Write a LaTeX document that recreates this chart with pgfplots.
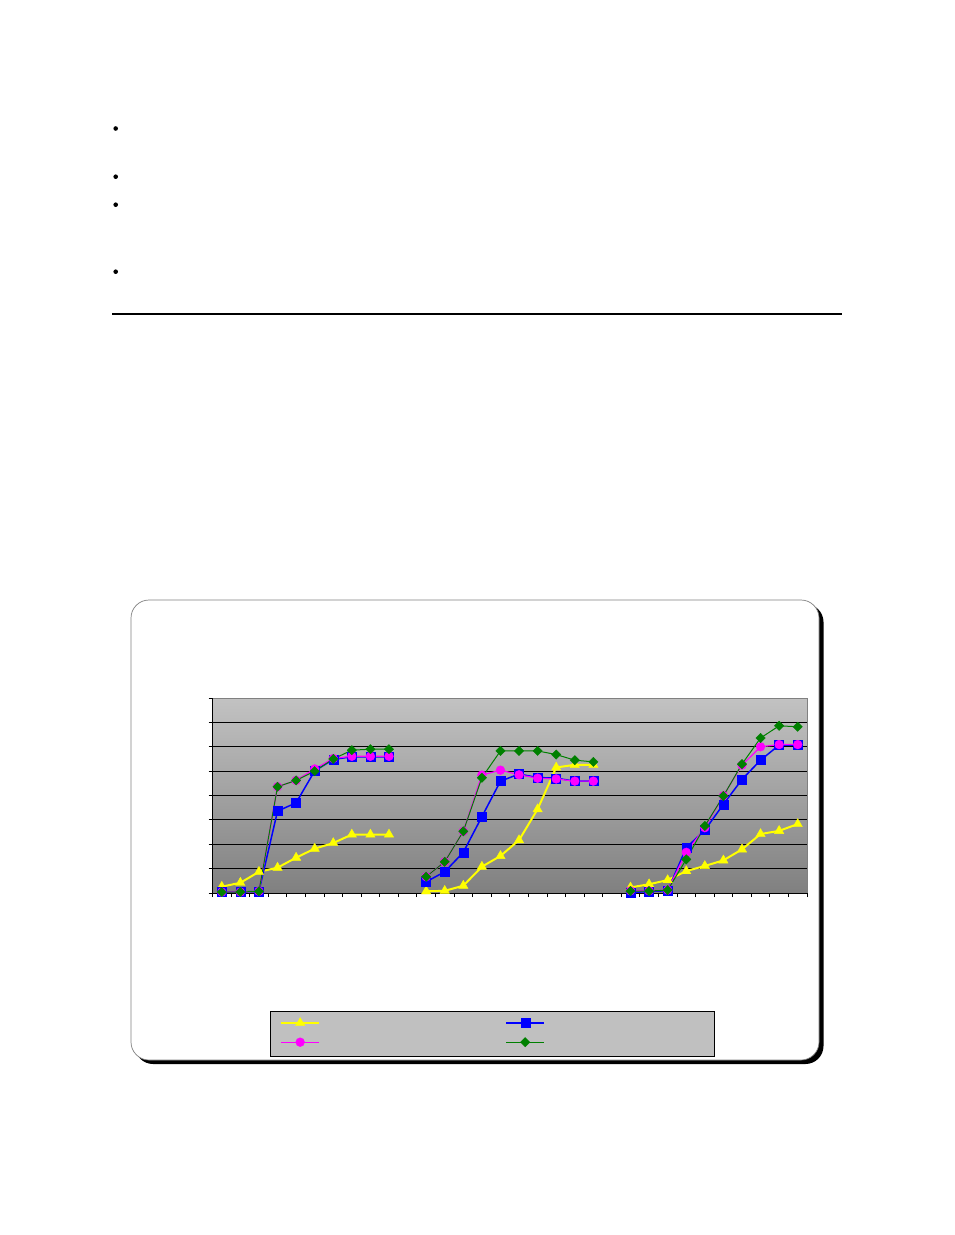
\documentclass[border=0pt]{standalone}
\usepackage{pgfplots}
\usepackage{pgfplotstable}
\pgfplotsset{compat=1.18}

\definecolor{xlyellow}{RGB}{255,255,0}
\definecolor{xlblue}{RGB}{0,0,255}
\definecolor{xlmagenta}{RGB}{255,0,255}
\definecolor{xlgreen}{RGB}{0,128,0}
\definecolor{plottop}{RGB}{194,194,194}
\definecolor{plotbot}{RGB}{128,128,128}
\definecolor{legfill}{RGB}{192,192,192}

% three runs of ten steps, empty slot between runs
\pgfplotstableread{
x  yel  blu  mag  grn
0  0.26 0.04 0.04 0.04
1  0.42 0.04 0.04 0.04
2  0.87 0.07 0.07 0.07
3  1.04 3.36 4.36 4.36
4  1.45 3.70 4.62 4.62
5  1.82 5.01 5.09 5.00
6  2.05 5.48 5.52 5.50
7  2.40 5.59 5.61 5.86
8  2.40 5.59 5.61 5.90
9  2.40 5.59 5.61 5.90
10 nan  nan  nan  nan
11 0.07 0.46 0.67 0.67
12 0.09 0.87 1.28 1.28
13 0.30 1.67 2.53 2.53
14 1.08 3.13 4.84 4.73
15 1.52 4.59 5.04 5.83
16 2.17 4.88 4.85 5.83
17 3.44 4.74 4.71 5.83
18 5.15 4.71 4.68 5.68
19 5.26 4.59 4.59 5.45
20 5.26 4.59 4.59 5.38
21 nan  nan  nan  nan
22 0.23 0.01 0.09 0.08
23 0.36 0.07 0.09 0.08
24 0.53 0.09 0.12 0.12
25 0.90 1.86 1.67 1.38
26 1.11 2.58 2.68 2.75
27 1.34 3.64 3.99 3.98
28 1.79 4.66 5.25 5.29
29 2.42 5.45 6.00 6.36
30 2.55 6.07 6.09 6.86
31 2.83 6.07 6.09 6.82
}\runs

\begin{document}
\begin{tikzpicture}
\path[fill=white, use as bounding box] (0pt,0pt) rectangle (954pt,-1235pt);

% bullets and rule of the page
\foreach \y in {128.5,176.7,204.7,271.7}
  \fill (115.7pt,-\y pt) circle (2.3pt);
\draw[line width=2pt] (112pt,-313.5pt) -- (842pt,-313.5pt);

% chart area with shadow
\fill[black, rounded corners=18pt] (135pt,-604pt) rectangle (823.5pt,-1064pt);
\filldraw[fill=white, draw=gray, line width=0.7pt, rounded corners=18pt]
  (131pt,-600pt) rectangle (819pt,-1060pt);

% legend box
\filldraw[fill=legfill, draw=black, line width=1pt]
  (270.5pt,-1011.7pt) rectangle (714.7pt,-1056pt);

\begin{axis}[
  at={(212.5pt,-893pt)}, anchor=south west,
  scale only axis, width=594.5pt, height=195pt,
  xmin=-0.5, xmax=31.5, ymin=0, ymax=8,
  clip=false,
  axis x line*=bottom, axis y line*=left,
  axis line style={black, line width=1pt},
  axis background/.style={top color=plottop, bottom color=plotbot},
  xtick={-0.5,0.5,...,31.5}, xticklabels={},
  ytick={0,...,7}, yticklabels={},
  extra y ticks={8}, extra y tick labels={}, extra y tick style={grid=none},
  ymajorgrids, grid style={black, line width=0.9pt},
  tick align=outside, major tick length=4pt,
  tick style={black, line width=0.8pt},
  unbounded coords=jump,
  legend image code/.code={
    \draw[mark repeat=2, mark phase=2] plot coordinates {(0pt,0pt) (19pt,0pt) (38pt,0pt)};},
  legend columns=2,
  legend style={draw=none, fill=none, inner sep=0pt,
    at={(0.1135,-0.638)}, anchor=north west,
    nodes={inner sep=0pt}, row sep=10pt,
    /tikz/every even column/.append style={column sep=25.3pt}},
]
\draw[gray, line width=0.8pt] (rel axis cs:0,1) -- (rel axis cs:1,1) -- (rel axis cs:1,0);

\addplot[xlyellow, line width=2pt, mark=triangle*, mark size=5.4pt,
  mark options={solid, fill=xlyellow, line width=0.4pt}]
  table[x=x, y=yel] {\runs};
\addlegendentry{\hspace*{160pt}}
\addplot[xlblue, line width=1.5pt, mark=square*, mark size=4.5pt,
  mark options={solid, fill=xlblue, line width=0.4pt}]
  table[x=x, y=blu] {\runs};
\addlegendentry{\hspace*{160pt}}
\addplot[xlmagenta, line width=1.2pt, mark=*, mark size=4.4pt,
  mark options={solid, fill=xlmagenta, line width=0.4pt}]
  table[x=x, y=mag] {\runs};
\addlegendentry{\hspace*{160pt}}
\addplot[xlgreen, line width=1pt, mark=square*, mark size=3.3pt,
  mark options={solid, fill=xlgreen, rotate=45, line width=0.4pt}]
  table[x=x, y=grn] {\runs};
\addlegendentry{\hspace*{160pt}}
\end{axis}
\end{tikzpicture}
\end{document}
